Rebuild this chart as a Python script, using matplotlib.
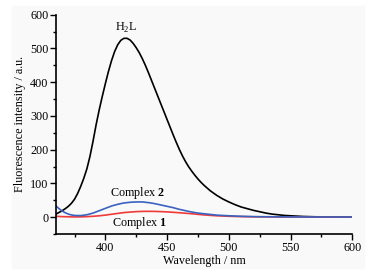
import matplotlib
matplotlib.use("Agg")
import matplotlib.pyplot as plt
from matplotlib.patches import Rectangle
from matplotlib.ticker import MultipleLocator

plt.rcParams["font.family"] = "Liberation Serif"
plt.rcParams["font.size"] = 8.7
plt.rcParams["mathtext.fontset"] = "custom"
plt.rcParams["mathtext.rm"] = "Liberation Serif"
plt.rcParams["mathtext.bf"] = "Liberation Serif:bold"

# H2L emission
wl_h2l = [360, 362.5, 365, 367.5, 370, 372.5, 375, 377.5, 380, 382.5, 385,
          387.5, 390, 392.5, 395, 397.5, 400, 402.5, 405, 407.5, 410, 412.5,
          415, 417.5, 420, 422.5, 425, 427.5, 430, 432.5, 435, 437.5, 440,
          442.5, 445, 447.5, 450, 452.5, 455, 457.5, 460, 462.5, 465, 467.5,
          470, 472.5, 475, 477.5, 480, 485, 490, 495, 500, 505, 510, 515,
          520, 525, 530, 535, 540, 545, 550, 555, 560, 570, 580, 590, 600]
h2l = [9, 14, 19, 25, 32, 41, 53, 70, 91, 115, 143,
       180, 225, 274, 318, 358, 396, 432, 464, 491, 511, 524,
       530, 530, 525, 515, 502, 487, 469, 449, 427, 404, 381,
       358, 335, 312, 289, 266, 243, 221, 200, 181, 164, 149,
       136, 124, 113, 103, 94, 78, 65, 54, 45, 37, 30, 25,
       20, 16, 12, 9, 7, 5, 4, 3, 2, 1, 0.5, 0.3, 0]

# Complex 2
wl_c2 = [360, 362.5, 365, 367.5, 370, 372.5, 375, 380, 385, 390, 395, 400,
         405, 410, 415, 420, 425, 430, 435, 440, 445, 450, 455, 460, 465,
         470, 475, 480, 490, 500, 510, 520, 540, 560, 600]
c2 = [33, 25, 18, 13, 9, 6.5, 5, 4.5, 7, 12, 19, 26,
      33, 38, 42, 44, 45, 45, 43, 40, 36, 32, 28, 23, 19,
      15, 12, 10, 6, 4, 2.5, 1.5, 0.8, 0.5, 0.3]

# Complex 1
wl_c1 = [360, 365, 370, 375, 380, 385, 390, 395, 400, 405, 410, 415, 420,
         425, 430, 435, 440, 445, 450, 455, 460, 465, 470, 475, 480, 490,
         500, 510, 520, 540, 560, 600]
c1 = [2.5, 1.5, 1, 0.6, 0.8, 1.5, 2.5, 4, 6, 8.5, 11, 13.5, 15,
      16.3, 17, 17.2, 17, 16.3, 15.5, 14.3, 13, 11.5, 10, 8.2, 6.5, 4,
      2.5, 1.5, 1, 0.5, 0.3, 0.2]

W, H = 379, 270
fig = plt.figure(figsize=(W / 100, H / 100), dpi=100)
fig.patches.append(Rectangle((12 / W, 1 - 268 / H), 352 / W, 262 / H,
                             transform=fig.transFigure, color="#f9f9f9",
                             zorder=-1))

ax = fig.add_axes([56 / W, 1 - 234 / H, 296.3 / W, 219.3 / H])
ax.patch.set_alpha(0)

ax.plot(wl_h2l, h2l, color="black", lw=1.2)
ax.plot(wl_c1, c1, color="#f03a3a", lw=1.2)
ax.plot(wl_c2, c2, color="#3a62c0", lw=1.2)

ax.text(416.5, 562, r"H$_\mathregular{2}$L", ha="center", va="center")
ax.text(426, 71, r"Complex $\mathbf{2}$", ha="center", va="center")
ax.text(428, -18, r"Complex $\mathbf{1}$", ha="center", va="center")

ax.set_xlim(360, 600)
ax.set_ylim(-50, 600)
ax.xaxis.set_minor_locator(MultipleLocator(25))
ax.yaxis.set_major_locator(MultipleLocator(100))
ax.yaxis.set_minor_locator(MultipleLocator(50))
ax.set_xticks([400, 450, 500, 550, 600])
ax.tick_params(which="major", direction="out", length=4, width=1, pad=1.5)
ax.tick_params(which="minor", direction="out", length=2.5, width=1)

for s in ["top", "right"]:
    ax.spines[s].set_visible(False)
for s in ["left", "bottom"]:
    ax.spines[s].set_linewidth(1.2)

ax.set_xlabel("Wavelength / nm", labelpad=1)
ax.set_ylabel("Fluorescence intensity / a.u.", labelpad=3)

fig.savefig("out.png", dpi=100)
